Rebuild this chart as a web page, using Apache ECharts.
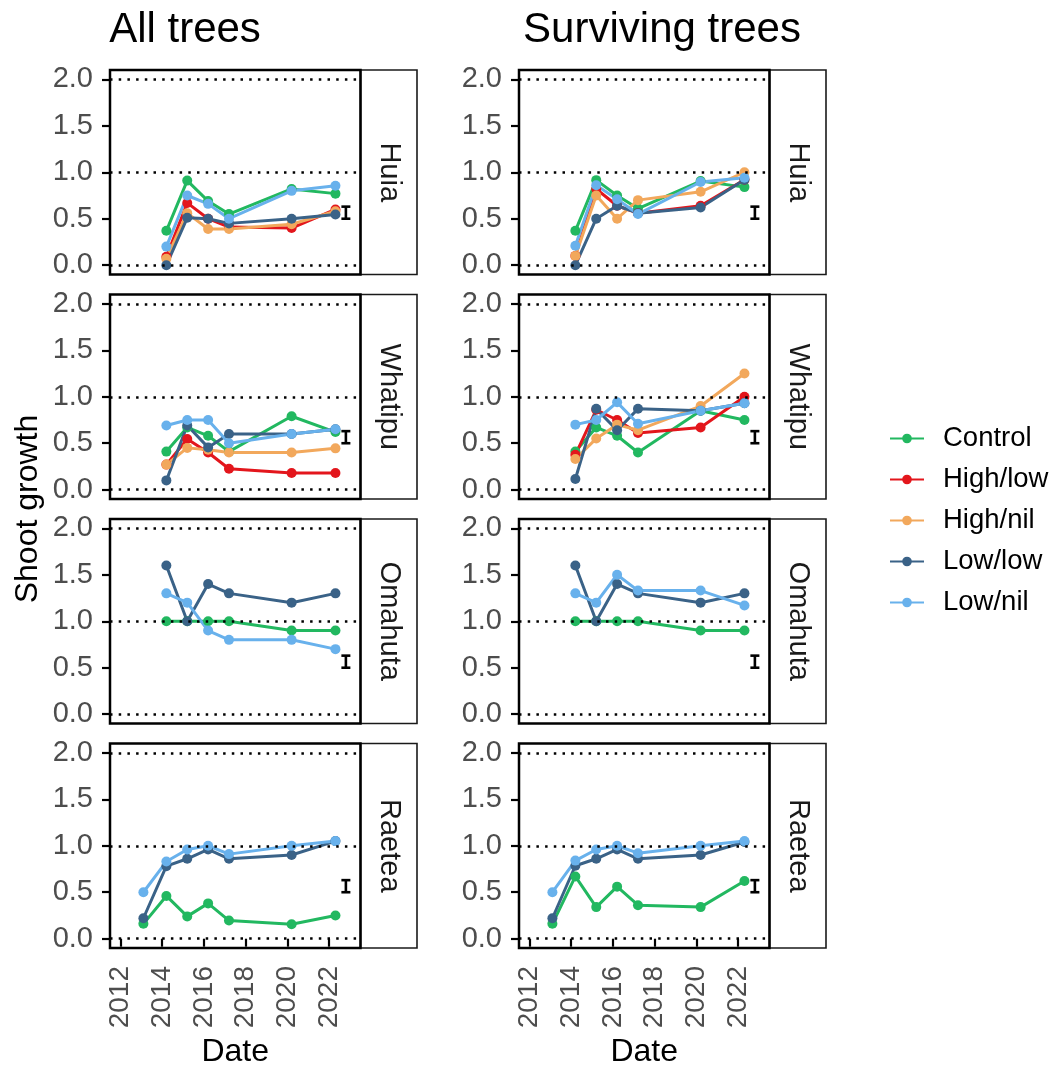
<!DOCTYPE html>
<html>
<head>
<meta charset="utf-8">
<title>Shoot growth</title>
<script src="https://cdn.jsdelivr.net/npm/echarts@6/dist/echarts.min.js"></script>
<style>
  html, body { margin: 0; padding: 0; background: #fff; }
  #chart { width: 1054px; height: 1070px; }
</style>
</head>
<body>
<div id="chart"></div>
<script>
// Treatments, in drawing order (last drawn on top)
const treatments = ['Control', 'High/low', 'High/nil', 'Low/low', 'Low/nil'];
const treatmentColors = ['#22B860', '#E3161C', '#F2A85C', '#3A6287', '#68B1EC'];
const sites = ['Huia', 'Whatipu', 'Omahuta', 'Raetea'];
const columnTitles = ['All trees', 'Surviving trees'];

// Survey dates (decimal years)
const surveyDates = [2014.2, 2015.2, 2016.2, 2017.2, 2020.2, 2022.3];
const raeteaDates = [2013.1, 2014.2, 2015.2, 2016.2, 2017.2, 2020.2, 2022.3];

// Axis ticks
const yTicks = [0, 0.5, 1, 1.5, 2];
const xTicks = [2012, 2014, 2016, 2018, 2020, 2022];
const guideLines = [0, 1, 2];

// Shoot growth, one row per treatment (null = treatment not at site)
// All trees
const allHuia = [
  [0.37, 0.91, 0.69, 0.55, 0.82, 0.77],
  [0.09, 0.67, 0.50, 0.41, 0.40, 0.60],
  [0.07, 0.56, 0.39, 0.39, 0.44, 0.58],
  [0.00, 0.51, 0.50, 0.45, 0.50, 0.545],
  [0.20, 0.75, 0.66, 0.50, 0.80, 0.855]
];
const allWhatipu = [
  [0.41, 0.67, 0.58, 0.41, 0.79, 0.62],
  [0.27, 0.545, 0.40, 0.225, 0.18, 0.18],
  [0.27, 0.45, 0.43, 0.40, 0.40, 0.445],
  [0.10, 0.69, 0.455, 0.60, 0.60, 0.65],
  [0.69, 0.75, 0.75, 0.50, 0.60, 0.65]
];
const allOmahuta = [
  [1.0, 1.0, 1.0, 1.0, 0.9, 0.9],
  null,
  null,
  [1.6, 1.0, 1.4, 1.3, 1.2, 1.3],
  [1.3, 1.2, 0.9, 0.8, 0.8, 0.7]
];
const allRaetea = [
  [0.16, 0.46, 0.24, 0.38, 0.195, 0.155, 0.25],
  null,
  null,
  [0.22, 0.78, 0.86, 0.96, 0.86, 0.90, 1.05],
  [0.50, 0.83, 0.96, 1.0, 0.91, 1.0, 1.05]
];
// Surviving trees
const survHuia = [
  [0.37, 0.915, 0.75, 0.61, 0.905, 0.84],
  [0.10, 0.82, 0.64, 0.56, 0.64, 0.92],
  [0.10, 0.75, 0.50, 0.70, 0.79, 1.0],
  [0.00, 0.50, 0.64, 0.56, 0.62, 0.92],
  [0.21, 0.86, 0.71, 0.55, 0.895, 0.94]
];
const survWhatipu = [
  [0.41, 0.67, 0.58, 0.40, 0.85, 0.75],
  [0.375, 0.86, 0.75, 0.61, 0.67, 1.0],
  [0.33, 0.55, 0.70, 0.64, 0.90, 1.25],
  [0.115, 0.87, 0.64, 0.87, 0.85, 0.93],
  [0.70, 0.75, 0.94, 0.71, 0.85, 0.93]
];
const survOmahuta = [
  [1.0, 1.0, 1.0, 1.0, 0.9, 0.9],
  null,
  null,
  [1.6, 1.0, 1.4, 1.3, 1.2, 1.3],
  [1.3, 1.2, 1.5, 1.33, 1.33, 1.17]
];
const survRaetea = [
  [0.16, 0.67, 0.34, 0.56, 0.36, 0.34, 0.62],
  null,
  null,
  [0.22, 0.785, 0.86, 0.96, 0.86, 0.90, 1.04],
  [0.50, 0.84, 0.96, 1.0, 0.92, 1.0, 1.05]
];

// Representative error bar drawn in each panel: [date, low, high]
const errorBar = [2022.8, 0.50, 0.63];

const panels = [
  { col: 0, row: 0, dates: surveyDates, rows: allHuia },
  { col: 0, row: 1, dates: surveyDates, rows: allWhatipu },
  { col: 0, row: 2, dates: surveyDates, rows: allOmahuta },
  { col: 0, row: 3, dates: raeteaDates, rows: allRaetea },
  { col: 1, row: 0, dates: surveyDates, rows: survHuia },
  { col: 1, row: 1, dates: surveyDates, rows: survWhatipu },
  { col: 1, row: 2, dates: surveyDates, rows: survOmahuta },
  { col: 1, row: 3, dates: raeteaDates, rows: survRaetea }
];

// Layout
const FONT = "'Liberation Sans', Arial, Helvetica, sans-serif";
const colLeft = [110, 519];
const panelW = 250.5;
const stripW = 56.5;
const rowTop = [70, 294.5, 519, 743.5];
const panelH = 204.5;

const chart = echarts.init(document.getElementById('chart'), null, { renderer: 'canvas' });

const grid = [], xAxis = [], yAxis = [], series = [], graphic = [];

panels.forEach((p, k) => {
  const left = colLeft[p.col], top = rowTop[p.row];
  const bottomRow = p.row === sites.length - 1;
  grid.push({
    left: left, top: top, width: panelW, height: panelH,
    show: false
  });
  xAxis.push({
    type: 'value', gridIndex: k, min: 2011.5, max: 2023.5,
    splitLine: { show: false },
    axisLine: { show: false },
    axisTick: {
      show: bottomRow, customValues: xTicks, length: 8, inside: false,
      lineStyle: { color: '#000', width: 2.2 }
    },
    axisLabel: {
      show: bottomRow, customValues: xTicks, rotate: 90, margin: 18,
      fontSize: 28, color: '#4D4D4D', fontFamily: FONT,
      formatter: v => String(v)
    }
  });
  yAxis.push({
    type: 'value', gridIndex: k, min: -0.1, max: 2.1,
    splitLine: { show: false },
    axisLine: { show: false },
    axisTick: {
      show: true, customValues: yTicks, length: 8,
      lineStyle: { color: '#000', width: 2.2 }
    },
    axisLabel: {
      show: true, customValues: yTicks, margin: 17,
      fontSize: 29, color: '#4D4D4D', fontFamily: FONT,
      formatter: v => v.toFixed(1)
    }
  });

  p.rows.forEach((vals, i) => {
    if (!vals) return;
    series.push({
      type: 'line', name: treatments[i],
      xAxisIndex: k, yAxisIndex: k,
      data: p.dates.map((d, j) => [d, vals[j]]),
      symbol: 'circle', symbolSize: 10, showSymbol: true,
      lineStyle: { width: 3, color: treatmentColors[i] },
      itemStyle: { color: treatmentColors[i] },
      emphasis: { disabled: true },
      animation: false, z: 2
    });
  });

  // Error bar plus dotted reference lines at 0, 1 and 2
  series.push({
    type: 'custom', name: 'errorbar', xAxisIndex: k, yAxisIndex: k,
    data: [errorBar], animation: false, silent: true, z: 4,
    renderItem: (params, api) => {
      const lo = api.coord([api.value(0), api.value(1)]);
      const hi = api.coord([api.value(0), api.value(2)]);
      const hw = 4.5;
      const st = { stroke: '#000', lineWidth: 2.6 };
      return {
        type: 'group',
        children: [
          { type: 'line', shape: { x1: lo[0], y1: lo[1], x2: hi[0], y2: hi[1] }, style: st },
          { type: 'line', shape: { x1: lo[0] - hw, y1: lo[1], x2: lo[0] + hw, y2: lo[1] }, style: st },
          { type: 'line', shape: { x1: hi[0] - hw, y1: hi[1], x2: hi[0] + hw, y2: hi[1] }, style: st }
        ]
      };
    },
    markLine: {
      silent: true, symbol: ['none', 'none'], label: { show: false },
      animation: false, z: 5,
      lineStyle: { type: [2.5, 6.2], color: '#000', width: 2.5, cap: 'butt' },
      emphasis: { disabled: true },
      data: guideLines.map(v => ({ yAxis: v }))
    }
  });

  // Panel border
  graphic.push({
    type: 'rect',
    shape: { x: left, y: top, width: panelW, height: panelH },
    style: { fill: null, stroke: '#000', lineWidth: 2.5 },
    z: 12, silent: true
  });
  // Facet strip with site name
  graphic.push({
    type: 'rect',
    shape: { x: left + panelW, y: top, width: stripW, height: panelH },
    style: { fill: '#fff', stroke: '#1A1A1A', lineWidth: 1.6 },
    z: 10
  });
  graphic.push({
    type: 'text',
    x: left + panelW + stripW / 2, y: top + panelH / 2,
    rotation: -Math.PI / 2,
    style: {
      text: sites[p.row], fill: '#1A1A1A', font: '29px ' + FONT,
      align: 'center', verticalAlign: 'middle'
    },
    z: 11
  });
});

// Column titles and axis titles
const titleCenters = [185, 662];
titleCenters.forEach((cx, c) => {
  graphic.push({
    type: 'text', x: cx, y: 30,
    style: { text: columnTitles[c], fill: '#000', font: '42px ' + FONT, align: 'center', verticalAlign: 'middle' }
  });
  graphic.push({
    type: 'text', x: colLeft[c] + panelW / 2, y: 1052,
    style: { text: 'Date', fill: '#000', font: '32px ' + FONT, align: 'center', verticalAlign: 'middle' }
  });
});
graphic.push({
  type: 'text', x: 28, y: 509, rotation: Math.PI / 2,
  style: { text: 'Shoot growth', fill: '#000', font: '32px ' + FONT, align: 'center', verticalAlign: 'middle' }
});

chart.setOption({
  animation: false,
  backgroundColor: '#fff',
  grid, xAxis, yAxis, series, graphic,
  legend: {
    data: treatments,
    orient: 'vertical',
    left: 884, top: 418,
    itemWidth: 34, itemHeight: 12, itemGap: 10,
    selectedMode: false,
    textStyle: { fontSize: 27.5, color: '#000', fontFamily: FONT, lineHeight: 31, padding: [0, 0, 0, 14] }
  }
});
</script>
</body>
</html>
